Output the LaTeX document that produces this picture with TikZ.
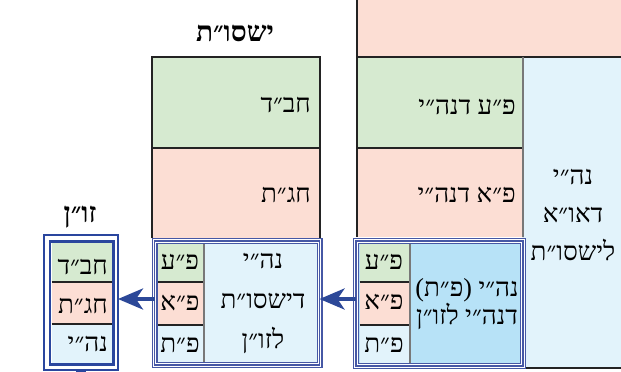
\documentclass[tikz,border=0pt]{standalone}
\usepackage{fontspec}
\usetikzlibrary{arrows.meta}
\TeXXeTstate=1
\newfontfamily\hebf[Script=Hebrew]{Liberation Serif}
\newcommand\RLt[1]{\beginR#1\endR}
\definecolor{gfill}{RGB}{214,234,208}
\definecolor{pfill}{RGB}{252,222,212}
\definecolor{lbfill}{RGB}{226,243,251}
\definecolor{dbfill}{RGB}{183,226,247}
\definecolor{linec}{RGB}{35,35,35}
\definecolor{arrc}{RGB}{44,72,152}
\definecolor{tripc}{RGB}{70,88,165}
\definecolor{zbc}{RGB}{42,70,158}
\definecolor{dotc}{RGB}{120,120,120}
\begin{document}
\begin{tikzpicture}[x=1pt,y=-1pt,
  area/.style={rectangle, inner sep=0pt, outer sep=0pt, anchor=north west, draw=none},
  txt/.style={inner sep=0pt, font=\hebf\fontsize{26}{30}\selectfont, text=black},
  ml/.style={txt, align=center},
  ttl/.style={inner sep=0pt, font=\hebf\bfseries\fontsize{28}{30}\selectfont},
  blk/.style={draw=linec, line width=1.8pt},
  sep/.style={draw=dotc, line width=1.8pt, dash pattern=on 0.4pt off 0.4pt},
  triple/.style={draw=tripc, line width=6pt, postaction={draw=white, line width=3.6pt}, postaction={draw=tripc, line width=1.2pt}},
  conn/.style={draw=arrc, line width=4pt, -{Stealth[length=25pt,width=21pt,inset=7pt]}},
]
\useasboundingbox (0,0) rectangle (621,372);
\clip (0,0) rectangle (621,372);
% right structure
\node[area, fill=pfill, minimum width=268pt, minimum height=65pt] (rtop) at (357,-8) {};
\node[area, fill=lbfill, minimum width=102pt, minimum height=311pt] (rcol) at (523,57) {};
\node[area, fill=gfill, minimum width=166pt, minimum height=91pt] (rgreen) at (357,57) {};
\node[area, fill=pfill, minimum width=166pt, minimum height=89pt] (rpink) at (357,148) {};
\draw[blk] (rtop.north west) -- (rpink.south west);
\draw[blk] (rgreen.north west) -- (rcol.north east);
\draw[blk] (rgreen.south west) -- (rgreen.south east);
\draw[blk] (rcol.south west) -- (rcol.south east);
\draw[sep] (rgreen.north east) -- (rpink.south east);
% middle structure
\node[area, fill=gfill, minimum width=168pt, minimum height=91pt] (mgreen) at (152,57) {};
\node[area, fill=pfill, minimum width=168pt, minimum height=90pt] (mpink) at (152,148) {};
\draw[blk] (mpink.south west) -- (mgreen.north west) -- (mgreen.north east) -- (mpink.south east);
\draw[blk] (mgreen.south west) -- (mgreen.south east);
% middle bottom box
\node[area, fill=lbfill, minimum width=165pt, minimum height=124pt] (mbox) at (154.5,241) {};
\node[area, fill=gfill, minimum width=46pt, minimum height=38pt] (mpe) at (158,244) {};
\node[area, fill=pfill, minimum width=46pt, minimum height=43pt] (mpa) at (158,282) {};
\node[area, fill=lbfill, minimum width=46pt, minimum height=37pt] (mpt) at (158,325) {};
\draw[blk] (mpe.south west) -- (mpe.south east);
\draw[blk] (mpa.south west) -- (mpa.south east);
\draw[sep] (mpe.north east) -- (mpt.south east);
\draw[triple] (mbox.north west) rectangle (mbox.south east);
% right bottom box
\node[area, fill=dbfill, minimum width=167pt, minimum height=125pt] (rbox) at (356,241) {};
\node[area, fill=gfill, minimum width=50.5pt, minimum height=38pt] (rpe) at (359.5,244) {};
\node[area, fill=pfill, minimum width=50.5pt, minimum height=43pt] (rpa) at (359.5,282) {};
\node[area, fill=lbfill, minimum width=50.5pt, minimum height=38pt] (rpt) at (359.5,325) {};
\draw[blk] (rpe.south west) -- (rpe.south east);
\draw[blk] (rpa.south west) -- (rpa.south east);
\draw[sep] (rpe.north east) -- (rpt.south east);
\draw[triple] (rbox.north west) rectangle (rbox.south east);
% left box
\node[area, minimum width=74pt, minimum height=135pt] (zout) at (44,235) {};
\node[area, minimum width=63.5pt, minimum height=123pt] (zbox) at (50,241.5) {};
\node[area, fill=gfill, minimum width=60.5pt, minimum height=39pt] (zc1) at (51.5,243) {};
\node[area, fill=pfill, minimum width=60.5pt, minimum height=42pt] (zc2) at (51.5,282) {};
\node[area, fill=lbfill, minimum width=60.5pt, minimum height=39pt] (zc3) at (51.5,324) {};
\draw[blk] (zc1.south west) -- (zc1.south east);
\draw[blk] (zc2.south west) -- (zc2.south east);
\draw[draw=zbc, line width=2.4pt] (zbox.north west) rectangle (zbox.south east);
\draw[draw=zbc, line width=1.1pt] (zout.north west) rectangle (zout.south east);
\draw[draw=zbc, line width=3pt] ([xshift=-5pt]zout.south) -- ([xshift=5pt]zout.south);
% arrows
\draw[conn] ([yshift=4.5pt]rbox.west) -- ([yshift=4pt]mbox.east);
\draw[conn] ([yshift=4pt]mbox.west) -- ([yshift=3.5pt]zout.east);
% texts
\node[ttl] (ttlm) at (235,33) {\RLt{ישסו״ת}};
\node[ttl] (ttlz) at (80,217) {\RLt{זו״ן}};
\node[txt, anchor=east] (tmg) at (311,105) {\RLt{חב״ד}};
\node[txt, anchor=east] (tmp) at (311,195) {\RLt{חג״ת}};
\node[txt, anchor=east] (trg) at (516,107) {\RLt{פ״ע דנה״י}};
\node[txt, anchor=east] (trp) at (516,195) {\RLt{פ״א דנה״י}};
\node[ml, font=\hebf\fontsize{26}{38}\selectfont] (trc) at (573,215) {\RLt{נה״י}\\\RLt{דאו״א}\\\RLt{לישסו״ת}};
\node[ml, font=\hebf\fontsize{26}{40}\selectfont] (tmb) at (263,303) {\RLt{נה״י}\\\RLt{דישסו״ת}\\\RLt{לזו״ן}};
\node[txt] (tm1) at (180,262) {\RLt{פ״ע}};
\node[txt] (tm2) at (180,303) {\RLt{פ״א}};
\node[txt] (tm3) at (180,345) {\RLt{פ״ת}};
\node[txt] (tr1) at (384,262) {\RLt{פ״ע}};
\node[txt] (tr2) at (384,302) {\RLt{פ״א}};
\node[txt] (tr3) at (384,345) {\RLt{פ״ת}};
\node[ml, font=\hebf\fontsize{26}{28}\selectfont] (trb) at (467,304) {\RLt{נה״י (פ״ת)}\\\RLt{דנה״י לזו״ן}};
\node[txt, anchor=east] (tz1) at (108,267) {\RLt{חב״ד}};
\node[txt, anchor=east] (tz2) at (108,306) {\RLt{חג״ת}};
\node[txt, anchor=east] (tz3) at (108,344) {\RLt{נה״י}};
\end{tikzpicture}
\end{document}
